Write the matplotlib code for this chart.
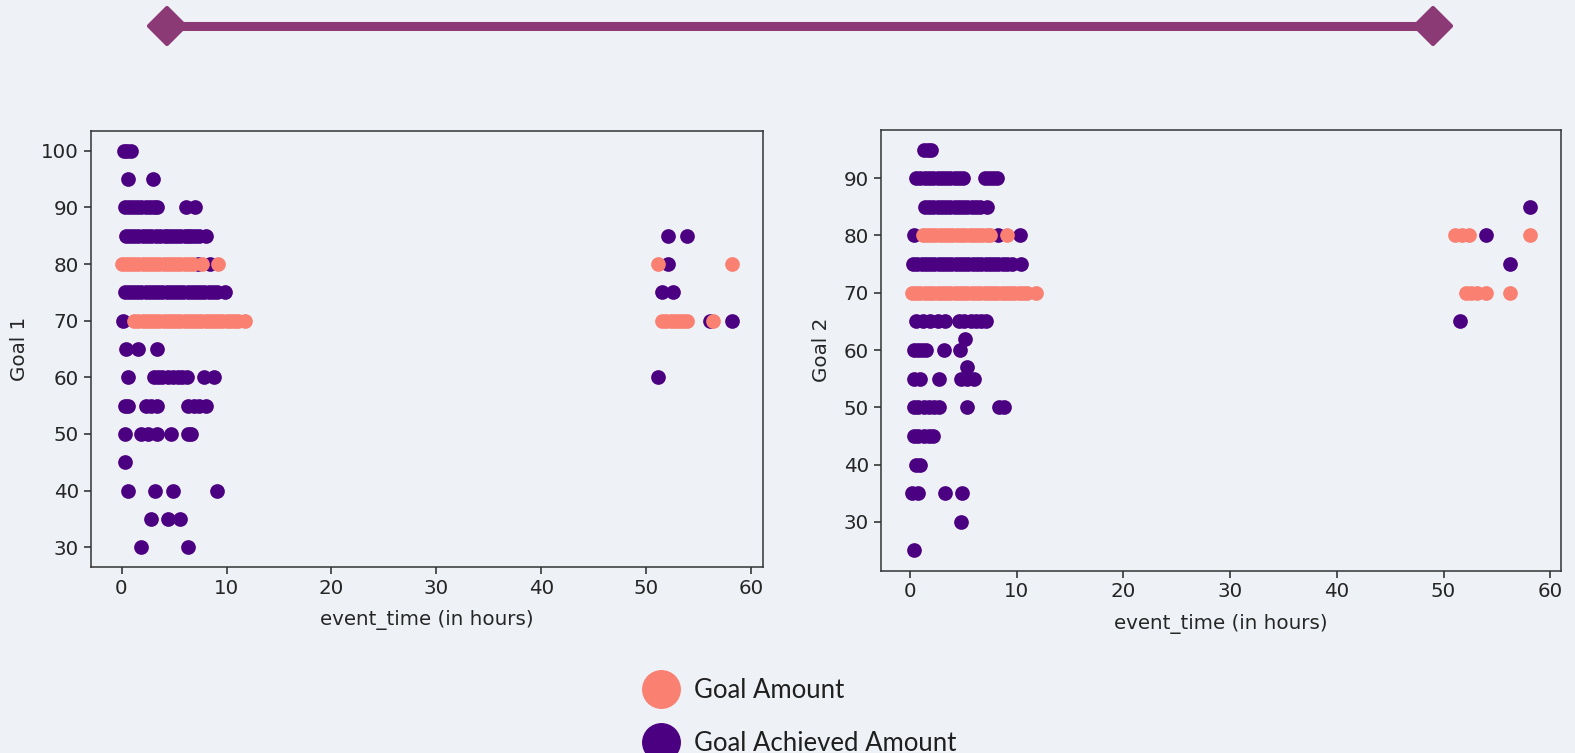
import matplotlib
matplotlib.use("Agg")
import matplotlib.pyplot as plt
from matplotlib.lines import Line2D
from matplotlib.markers import MarkerStyle

# ---- data: event times (hours) grouped by goal value ----
goal1_amount = {
    80: [0.0, 0.4, 0.8, 1.2, 1.6, 2.0, 2.4, 2.8, 3.2, 3.6, 4.0, 4.4, 4.8, 5.2,
         5.6, 6.0, 6.4, 6.8, 7.7, 9.2, 51.1, 58.2],
    70: [1.2, 1.6, 2.0, 2.4, 2.8, 3.2, 3.6, 4.0, 4.4, 4.8, 5.2, 5.6, 6.0, 6.4,
         6.8, 7.2, 7.6, 8.0, 8.4, 8.8, 9.2, 9.6, 10.0, 10.4, 10.8, 11.1, 11.8,
         51.5, 51.9, 52.3, 52.7, 53.1, 53.5, 53.9, 56.3],
}
goal1_achieved = {
    100: [0.2, 0.5, 0.9],
    95: [0.6, 3.0],
    90: [0.3, 0.7, 1.1, 1.5, 1.9, 2.3, 2.7, 3.1, 3.4, 6.1, 7.0],
    85: [0.4, 0.8, 1.2, 1.6, 2.0, 2.4, 2.8, 3.3, 3.7, 4.1, 4.4, 4.8, 5.2, 5.6,
         6.0, 6.3, 6.6, 7.0, 7.4, 8.0, 52.1, 53.9],
    80: [7.3, 8.45, 52.1],
    75: [0.3, 0.7, 1.1, 1.5, 1.9, 2.3, 2.7, 3.1, 3.5, 3.9, 4.3, 4.7, 5.1, 5.5,
         5.9, 6.3, 6.7, 7.1, 7.5, 7.9, 8.3, 8.7, 9.1, 9.9, 51.5, 52.5],
    70: [0.1, 56.1, 58.2],
    65: [0.4, 1.6, 3.4],
    60: [0.65, 3.1, 3.5, 3.9, 4.4, 4.9, 5.4, 5.8, 6.2, 7.9, 8.8, 51.1],
    55: [0.3, 0.6, 2.3, 2.8, 3.4, 6.3, 6.9, 7.4, 8.0],
    50: [0.3, 1.9, 2.5, 3.4, 4.7, 6.3, 6.6],
    45: [0.3],
    40: [0.6, 3.2, 4.9, 9.1],
    35: [2.85, 4.4, 5.6],
    30: [1.9, 6.3],
}

goal2_amount = {
    80: [1.2, 1.6, 2.0, 2.4, 2.8, 3.2, 3.6, 4.0, 4.4, 4.8, 5.2, 5.6, 6.0, 6.4,
         6.8, 7.2, 7.5, 9.1, 51.1, 51.7, 52.4, 58.1],
    70: [0.2, 0.6, 1.0, 1.4, 1.8, 2.2, 2.6, 3.0, 3.4, 3.8, 4.2, 4.6, 5.0, 5.4,
         5.8, 6.2, 6.6, 7.0, 7.4, 7.8, 8.2, 8.6, 9.0, 9.4, 9.8, 10.2, 10.6,
         11.0, 11.8, 52.1, 52.6, 53.1, 54.0, 56.2],
}
goal2_achieved = {
    95: [1.3, 1.7, 2.0],
    90: [0.6, 1.0, 1.4, 1.8, 2.2, 2.6, 3.0, 3.4, 3.8, 4.2, 4.6, 5.0,
         7.0, 7.4, 7.8, 8.2],
    85: [1.4, 1.8, 2.2, 2.6, 3.0, 3.4, 3.8, 4.2, 4.6, 5.0, 5.4, 5.8, 6.2,
         6.6, 7.2, 58.1],
    80: [0.35, 8.3, 10.3, 54.0],
    75: [0.3, 0.7, 1.1, 1.5, 1.9, 2.3, 2.7, 3.1, 3.5, 3.9, 4.3, 4.7, 5.1, 5.5,
         5.9, 6.3, 6.7, 7.1, 7.5, 7.9, 8.3, 8.7, 9.1, 9.6, 10.4, 56.2],
    65: [0.6, 1.2, 1.9, 2.6, 3.3, 4.6, 5.1, 5.7, 6.2, 6.7, 7.1, 51.5],
    62: [5.2],
    60: [0.35, 0.8, 1.1, 1.5, 3.2, 4.7],
    57: [5.35],
    55: [0.35, 0.95, 2.7, 4.8, 5.4, 6.0],
    50: [0.35, 0.8, 1.3, 1.8, 2.3, 2.7, 5.35, 8.4, 8.8],
    45: [0.35, 0.8, 1.3, 1.8, 2.2],
    40: [0.6, 1.0],
    35: [0.2, 0.8, 3.3, 4.9],
    30: [4.8],
    25: [0.4],
}

series_labels = ["Goal Amount", "Goal Achieved Amount"]
y_labels = ["Goal 1", "Goal 2"]
x_label = "event_time (in hours)"

# ---- styling ----
BG = "#EEF1F6"
SALMON = "#FA8072"
INDIGO = "#4B0082"
ACCENT = "#8C3A76"
INK = "#262626"
W, H = 1575, 753
DOT = 112
FS = 14.3


def to_points(rows):
    xs, ys = [], []
    for value, times in rows.items():
        xs.extend(times)
        ys.extend([value] * len(times))
    return xs, ys


fig = plt.figure(figsize=(W / 100, H / 100), dpi=100, facecolor=BG)

# decorative connector bar across the top
deco = fig.add_axes([0, 0, 1, 1], zorder=-1)
deco.set_xlim(0, W)
deco.set_ylim(H, 0)
deco.axis("off")
deco.plot([166.5, 1433], [25.5, 25.5], color=ACCENT, lw=6.5,
          solid_capstyle="butt")
deco.plot([166.5, 1433], [25.5, 25.5], ls="none",
          marker=MarkerStyle("D", joinstyle="round"), ms=18.5,
          mfc=ACCENT, mec=ACCENT, mew=3)

panels = [
    ([91 / W, 1 - 567 / H, 672 / W, 436 / H], goal1_amount, goal1_achieved),
    ([881 / W, 1 - 570.5 / H, 680 / W, 441 / H], goal2_amount, goal2_achieved),
]

for (rect, amount, achieved), ylab in zip(panels, y_labels):
    ax = fig.add_axes(rect)
    ax.set_facecolor("none")
    ax_x, ax_y = to_points(achieved)
    ax.scatter(ax_x, ax_y, s=DOT, c=INDIGO, linewidths=0, zorder=2)
    am_x, am_y = to_points(amount)
    ax.scatter(am_x, am_y, s=DOT, c=SALMON, linewidths=0, zorder=3)
    ax.set_xlabel(x_label, fontsize=FS, color=INK, labelpad=9)
    ax.set_ylabel(ylab, fontsize=FS, color=INK, labelpad=9)
    ax.tick_params(labelsize=FS, colors=INK, length=5, width=1.1)
    for sp in ax.spines.values():
        sp.set_color("#333333")
        sp.set_linewidth(1.1)

handles = [
    Line2D([], [], ls="none", marker="o", ms=27, color=SALMON,
           label=series_labels[0]),
    Line2D([], [], ls="none", marker="o", ms=27, color=INDIGO,
           label=series_labels[1]),
]
fig.legend(handles=handles, loc="center left",
           bbox_to_anchor=(643 / W, 1 - 717 / H), frameon=False,
           prop={"family": "Lato", "size": 18.5}, labelcolor="#1f1f1f",
           handlelength=1.4, handletextpad=0.57, labelspacing=1.08,
           borderpad=0, borderaxespad=0)

fig.savefig("out.png", dpi=100, facecolor=BG)
